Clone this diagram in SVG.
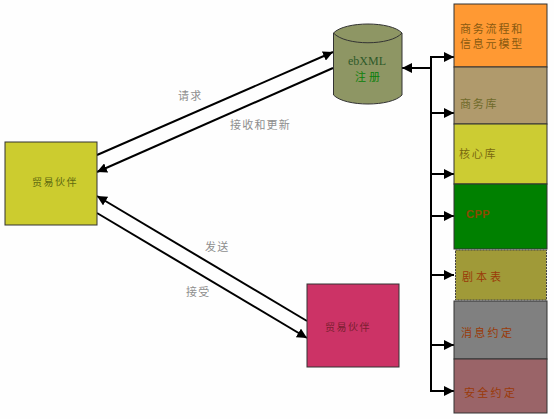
<svg xmlns="http://www.w3.org/2000/svg" width="554" height="419" viewBox="0 0 554 419">
<style>
.box{stroke:#333;stroke-width:1}
.t{font-family:"Noto Sans CJK SC","Liberation Serif",serif;font-size:11px;letter-spacing:1.8px}
.l{fill:#8e8e8e;letter-spacing:1.2px}
.p{font-size:10px;letter-spacing:1.5px}
.c{fill:none;stroke:#000;stroke-width:2}
.r{fill:#9a3a08}
</style>
<defs>
<marker id="a" markerUnits="userSpaceOnUse" markerWidth="10" markerHeight="10" refX="10" refY="5" orient="auto"><path d="M0 0L10 5L0 10Z" fill="#000"/></marker>
</defs>
<rect width="554" height="419" fill="#fefefe"/>
<g id="connectors">
<path class="c" d="M97 155L333 52" marker-end="url(#a)"/>
<path class="c" d="M333 68L97 172" marker-end="url(#a)"/>
<path class="c" d="M307 321L97 196" marker-end="url(#a)"/>
<path class="c" d="M97 213L307 338" marker-end="url(#a)"/>
<path class="c" d="M431 68L402 68" marker-end="url(#a)"/>
<path class="c" d="M431 56V392"/>
<path class="c" d="M430 57H454" marker-end="url(#a)"/>
<path class="c" d="M431 113H454" marker-end="url(#a)"/>
<path class="c" d="M431 174H454" marker-end="url(#a)"/>
<path class="c" d="M431 216H454" marker-end="url(#a)"/>
<path class="c" d="M431 275H454" marker-end="url(#a)"/>
<path class="c" d="M431 345H454" marker-end="url(#a)"/>
<path class="c" d="M430 391H454" marker-end="url(#a)"/>
</g>
<g id="label-request"><text class="t l" x="178" y="100">请求</text></g>
<g id="label-receive"><text class="t l" x="230" y="129">接收和更新</text></g>
<g id="label-send"><text class="t l" x="205" y="251">发送</text></g>
<g id="label-accept"><text class="t l" x="186" y="296">接受</text></g>
<g id="partner-a"><rect class="box" x="5" y="142" width="92" height="83" fill="#cccc2f"/><text class="t p" x="32" y="186" fill="#5f6a10">贸易伙伴</text></g>
<g id="partner-b"><rect class="box" x="307" y="284" width="92" height="83" fill="#cc3366"/><text class="t p" x="325" y="331" fill="#7a2030">贸易伙伴</text></g>
<g id="registry">
<path d="M333.500 33C345 21 391 21 402 33V95C391 107 345 107 333.500 95Z" fill="#8e9664" stroke="#333"/>
<path d="M333.500 33C345 46 391 46 402 33" fill="none" stroke="#333"/>
<text x="348" y="65" font-family="Liberation Serif,serif" font-size="12" fill="#2e5a2a">ebXML</text>
<text class="t" x="355" y="81" fill="#0a800a" style="letter-spacing:3px">注册</text>
</g>
<g id="n1"><rect class="box" x="454" y="4" width="93" height="63" fill="#ff9933"/><text class="t" x="460" y="33" fill="#8a5a10">商务流程和</text><text class="t" x="460" y="48" fill="#8a5a10">信息元模型</text></g>
<g id="n2"><rect class="box" x="454" y="67" width="93" height="57" fill="#b09a6c"/><text class="t" x="460" y="108" fill="#6f6a2a">商务库</text></g>
<g id="n3"><rect class="box" x="454" y="124" width="93" height="60" fill="#cccc33"/><text class="t" x="459" y="158" fill="#7a6a10">核心库</text></g>
<g id="n4"><rect class="box" x="454" y="184" width="93" height="65" fill="#008000"/><text x="466" y="218" font-family="Liberation Sans,sans-serif" font-size="11" font-weight="bold" letter-spacing="0.500" fill="#8a4a00">CPP</text></g>
<g id="n5"><rect x="455.500" y="250" width="91" height="50" fill="#a09a38" stroke="#444" stroke-dasharray="2 1"/><text class="t r" x="462" y="281" style="letter-spacing:3px">剧本表</text></g>
<g id="n6"><rect class="box" x="454" y="301" width="93" height="58" fill="#808080"/><text class="t r" x="461" y="337" style="letter-spacing:2.300px">消息约定</text></g>
<g id="n7"><rect class="box" x="454" y="359" width="93" height="54" fill="#9a6468"/><text class="t r" x="464" y="397" style="letter-spacing:2.300px">安全约定</text></g>
</svg>
